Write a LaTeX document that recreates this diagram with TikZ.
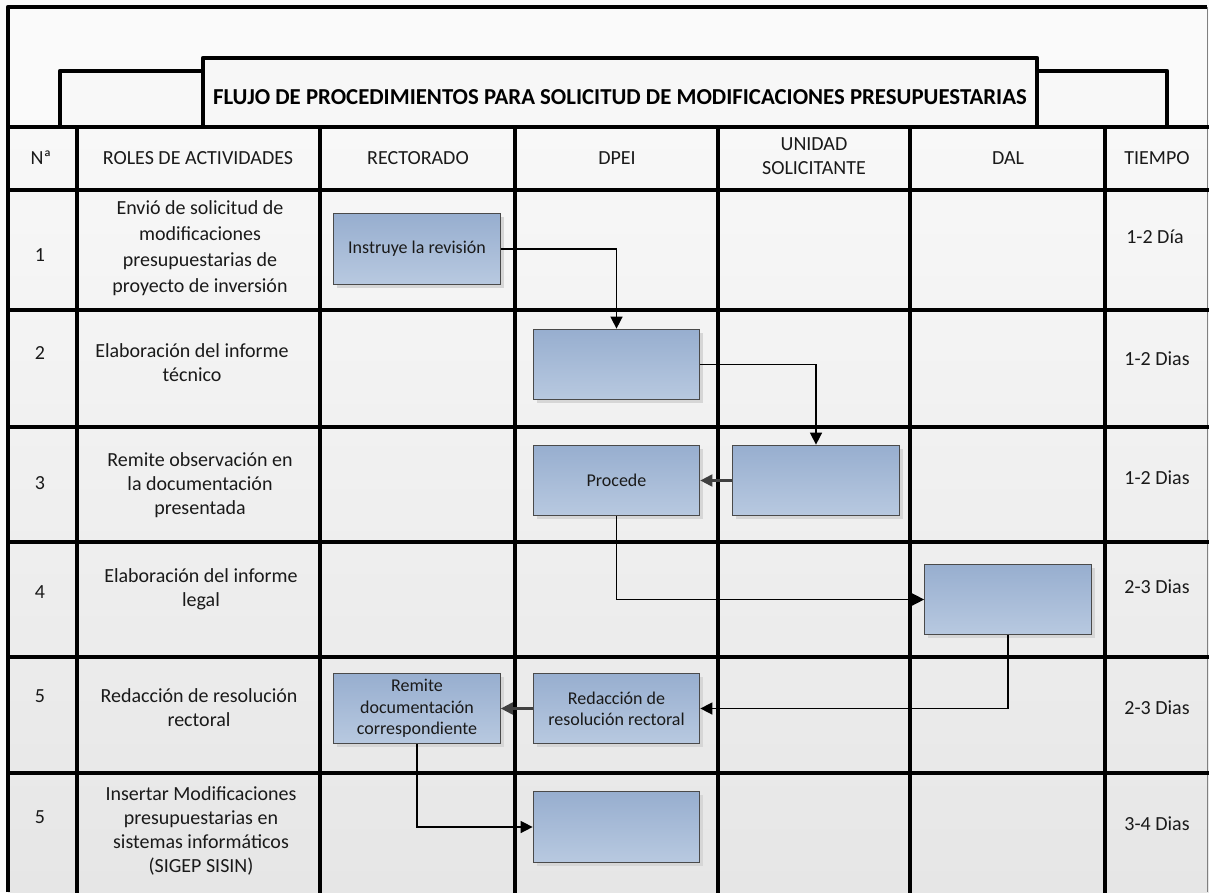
\documentclass[tikz,border=0pt]{standalone}
\usepackage{fontspec}
\setmainfont{Carlito}
\usetikzlibrary{arrows.meta,shadows}
\definecolor{boxtop}{HTML}{97AECF}
\definecolor{boxbot}{HTML}{B8C9E0}
\definecolor{boxborder}{HTML}{4A4A4A}
\definecolor{shadowc}{HTML}{D6D6D6}
\definecolor{arrowgray}{HTML}{404040}
\definecolor{bgtop}{HTML}{F8F8F8}
\definecolor{bgbot}{HTML}{E6E6E6}
\definecolor{txt}{HTML}{1A1A1A}
\begin{document}
\begin{tikzpicture}[x=0.75pt,y=-0.75pt,
  gridline/.style={line width=3.2pt, line cap=rect},
  frameline/.style={line width=3.2pt, line join=round},
  cell/.style={font=\fontsize{15}{18}\selectfont, text=txt, align=center, inner sep=0pt},
  titletext/.style={font=\bfseries\fontsize{17.1}{20}\selectfont, text=black, inner sep=0pt},
  procbox/.style={draw=boxborder, line width=0.8pt, top color=boxtop, bottom color=boxbot,
    minimum width=125pt, minimum height=53pt, inner sep=2pt, align=center,
    font=\fontsize{13.5}{16}\selectfont, text=txt,
    drop shadow={shadow xshift=2.5pt, shadow yshift=-2.5pt, fill=shadowc, opacity=1}},
  flow/.style={line width=1.1pt, -{Triangle[length=9pt,width=9pt]}},
  backflow/.style={draw=arrowgray, line width=1.6pt, -{Triangle[length=9pt,width=9pt]}},
]
\useasboundingbox (0,0) rectangle (1209,892);
\fill[white!98!black] (0,0) rectangle (1209,892);
% table background
\fill[top color=bgtop, bottom color=bgbot] (8,127) rectangle (1209,892);
% header band
\fill[bgtop] (60,71) rectangle (1167,127);
\draw[frameline] (60,127) -- (60,71) -- (1167,71) -- (1167,127);
% title box
\fill[white!97!black] (203,58) rectangle (1037,127);
\draw[frameline] (203,127) -- (203,58) -- (1037,58) -- (1037,127);
\node[titletext] (title) at (620,97) {FLUJO DE PROCEDIMIENTOS PARA SOLICITUD DE MODIFICACIONES PRESUPUESTARIAS};
% outer frame
\draw[frameline] (8,892) -- (8,7) -- (1207,7);
\draw[gray, line width=0.6pt] (1207,7) -- (1207,892);
% horizontal grid lines
\foreach \yy in {127,190,310,427,542,657,773}
  \draw[gridline] (8,\yy) -- (1209,\yy);
% vertical grid lines
\foreach \xx in {77,320,515,718,910,1105}
  \draw[gridline] (\xx,127) -- (\xx,892);
% header texts
\node[cell] (hN) at (41,158) {Nª};
\node[cell] (hR) at (198,158) {ROLES DE ACTIVIDADES};
\node[cell] (hRe) at (418,158) {RECTORADO};
\node[cell] (hD) at (617,158) {DPEI};
\node[cell] (hU) at (814,156) {UNIDAD\\SOLICITANTE};
\node[cell] (hDal) at (1008,158) {DAL};
\node[cell] (hT) at (1157,158) {TIEMPO};
% row numbers
\node[cell] (n1) at (40,255) {1};
\node[cell] (n2) at (40,353) {2};
\node[cell] (n3) at (40,483) {3};
\node[cell] (n4) at (40,592) {4};
\node[cell] (n5) at (40,696) {5};
\node[cell] (n6) at (40,817) {5};
% roles
\node[cell, font=\fontsize{15}{19.5}\selectfont] (r1) at (200,248) {Envió de solicitud de\\modificaciones\\presupuestarias de\\proyecto de inversión};
\node[cell] (r2) at (192,363) {Elaboración del informe\\técnico};
\node[cell] (r3) at (200,485) {Remite observación en\\la documentación\\presentada};
\node[cell] (r4) at (201,589) {Elaboración del informe\\legal};
\node[cell] (r5) at (199,708) {Redacción de resolución\\rectoral};
\node[cell] (r6) at (201,831) {Insertar Modificaciones\\presupuestarias en\\sistemas informáticos\\(SIGEP SISIN)};
% tiempo
\node[cell] (t1) at (1155,237) {1-2 Día};
\node[cell] (t2) at (1157,359) {1-2 Dias};
\node[cell] (t3) at (1157,478) {1-2 Dias};
\node[cell] (t4) at (1157,587) {2-3 Dias};
\node[cell] (t5) at (1157,708) {2-3 Dias};
\node[cell] (t6) at (1157,824) {3-4 Dias};
% process boxes
\node[procbox] (b1) at (417,249) {Instruye la revisión};
\node[procbox] (b2) at (616.5,364.5) {};
\node[procbox] (b3) at (616.5,480.5) {Procede};
\node[procbox] (b4) at (816,480.5) {};
\node[procbox] (b5) at (1008,599.5) {};
\node[procbox] (b6) at (417,708.5) {Remite\\documentación\\correspondiente};
\node[procbox] (b7) at (616.5,708.5) {Redacción de\\resolución rectoral};
\node[procbox] (b8) at (616.5,827) {};
% connectors
\draw[flow] (b1.east) -| (b2.north);
\draw[flow] (b2.east) -| (b4.north);
\draw[backflow] (b4.west) -- (b3.east);
\draw[flow] (b3.south) |- (b5.west);
\draw[flow] (b5.south) |- (b7.east);
\draw[backflow] (b7.west) -- (b6.east);
\draw[flow] (b6.south) |- (b8.west);
\end{tikzpicture}
\end{document}
